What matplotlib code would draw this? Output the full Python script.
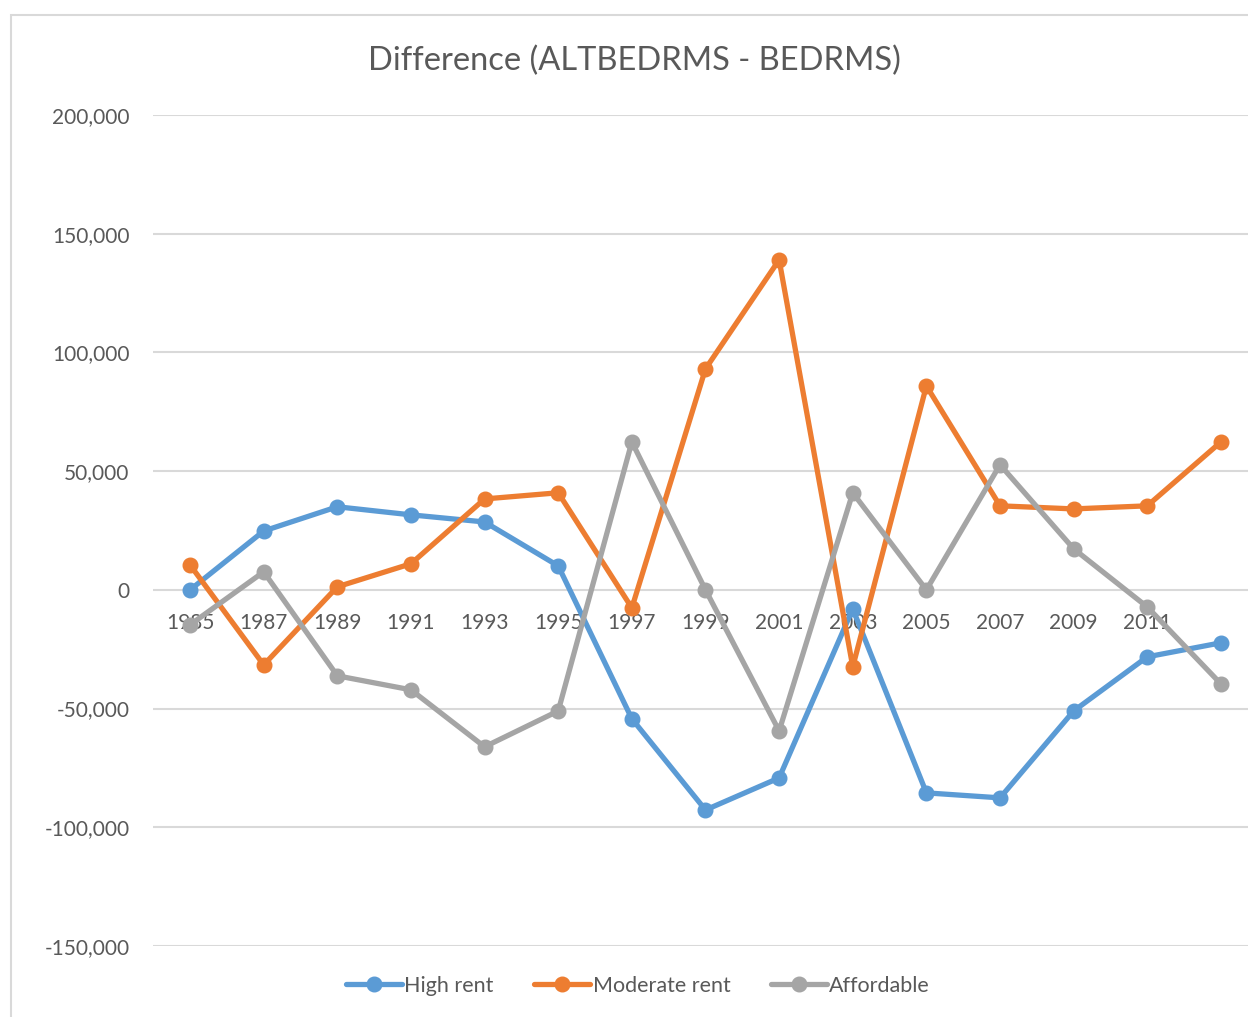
import matplotlib.pyplot as plt
from matplotlib.patches import Rectangle
from matplotlib.ticker import FuncFormatter

plt.rcParams['font.family'] = ['Lato', 'DejaVu Sans']

years = ['1985', '1987', '1989', '1991', '1993', '1995', '1997', '1999',
         '2001', '2003', '2005', '2007', '2009', '2011', '']
high_rent = [0, 24800, 35000, 31600, 28600, 10100, -54300, -92700,
             -79200, -8000, -85500, -87600, -51000, -28200, -22300]
moderate_rent = [10500, -31600, 1300, 11000, 38300, 40900, -7600, 93100,
                 139000, -32400, 85900, 35400, 34100, 35400, 62300]
affordable = [-14700, 7600, -36200, -42100, -66100, -51000, 62300, 0,
              -59400, 40900, 0, 52700, 17300, -7200, -39600]

series = [('High rent', high_rent, '#5B9BD5'),
          ('Moderate rent', moderate_rent, '#ED7D31'),
          ('Affordable', affordable, '#A5A5A5')]

fig = plt.figure(figsize=(12.48, 10.17), dpi=100)
fig.patches.append(Rectangle((0.0088, -0.1), 1.2, 1.0853, transform=fig.transFigure,
                             fill=False, edgecolor='#D9D9D9', linewidth=1.5))
ax = fig.add_axes([0.1228, 0.0698, 0.885, 0.8171])

x = list(range(len(years)))
for name, vals, color in series:
    ax.plot(x, vals, color=color, linewidth=3.8, marker='o', markersize=10.5,
            label=name, solid_capstyle='round', zorder=3)

ax.set_xlim(-0.5, len(years) - 0.5)
ax.set_ylim(-150000, 200000)
ax.set_yticks(range(-150000, 200001, 50000))
ax.yaxis.set_major_formatter(FuncFormatter(lambda v, p: f'{int(v):,}'))
ax.grid(axis='y', color='#D9D9D9', linewidth=1.5, zorder=0)
ax.set_axisbelow(True)
for s in ax.spines.values():
    s.set_visible(False)

ax.set_xticks(x)
ax.set_xticklabels(years)
ax.spines['bottom'].set_position(('data', 0))
ax.tick_params(axis='x', length=0, pad=16.5, labelsize=15, labelcolor='#595959')
ax.tick_params(axis='y', length=0, pad=17, labelsize=15, labelcolor='#595959')

fig.text(0.508, 0.94, 'Difference (ALTBEDRMS - BEDRMS)', ha='center', va='center',
         fontsize=23.5, color='#595959')

ax.legend(loc='center', bbox_to_anchor=(0.439, -0.048), ncol=3, frameon=False,
          fontsize=15.5, labelcolor='#595959', handlelength=2.6, handletextpad=0.1,
          columnspacing=1.9)

fig.savefig('out.png', dpi=100)
